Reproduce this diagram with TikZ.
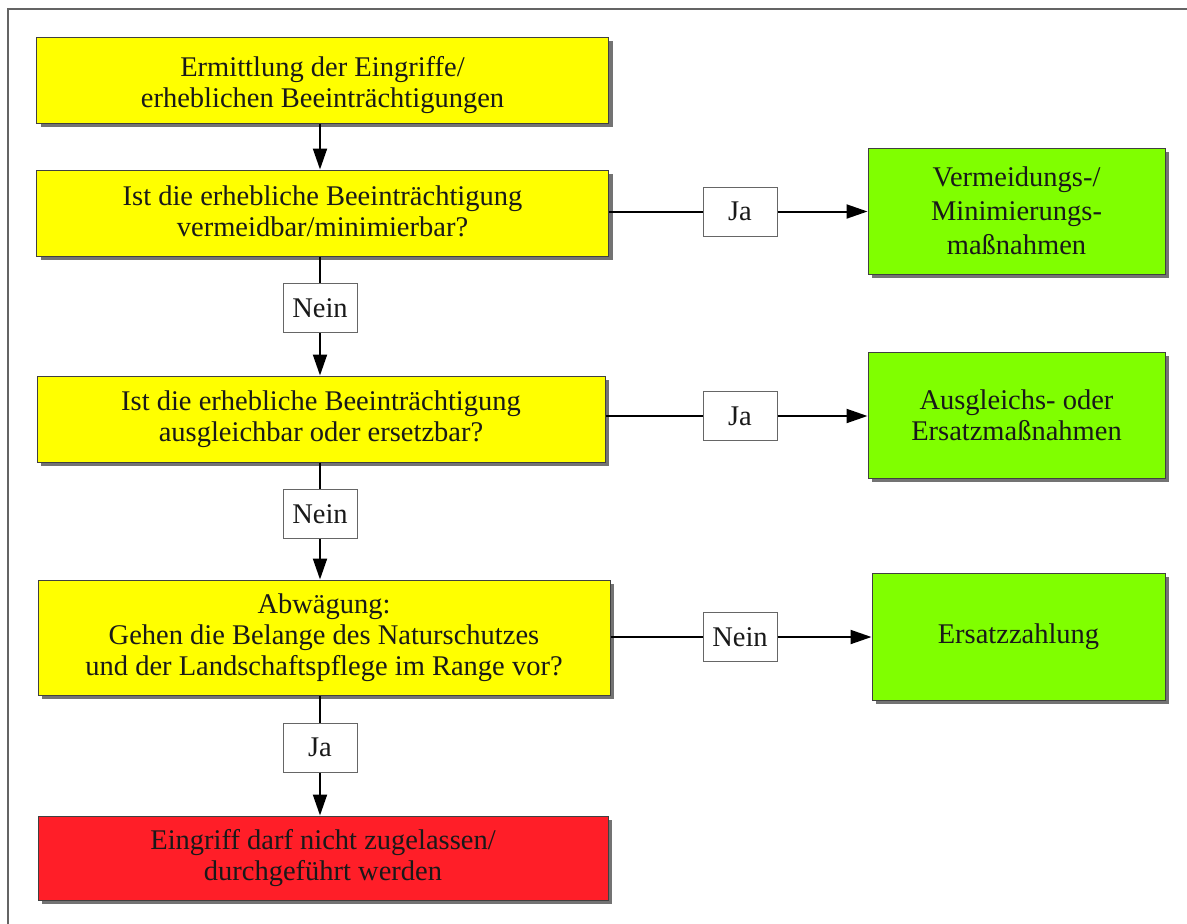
\documentclass[tikz,border=0pt]{standalone}
\usepackage{fontspec}
\setmainfont{Liberation Serif}
\usetikzlibrary{shadows,arrows.meta}
\definecolor{boxyellow}{RGB}{255,255,0}
\definecolor{boxgreen}{RGB}{128,255,0}
\definecolor{boxred}{RGB}{255,30,40}
\definecolor{framegray}{RGB}{100,100,100}
\definecolor{txt}{RGB}{25,25,25}
\newcommand{\lowertext}[2]{\raisebox{-#1}[\height][\depth]{\begin{tabular}{@{}c@{}}#2\end{tabular}}}
\tikzset{
  box/.style={draw=black!75, line width=1pt, align=center, inner sep=0pt,
    text=txt, font=\fontsize{28.5}{31}\selectfont,
    drop shadow={shadow xshift=4pt, shadow yshift=-4pt, fill=black!55, opacity=1}},
  yellowbox/.style={box, fill=boxyellow, minimum width=572pt},
  greenbox/.style={box, fill=boxgreen, minimum width=297pt, minimum height=126pt},
  redbox/.style={box, fill=boxred},
  lab/.style={draw=black!60, line width=1pt, fill=white, minimum width=74pt, minimum height=49pt,
    inner sep=0pt, text=txt, font=\fontsize{28.5}{31}\selectfont},
  conn/.style={line width=2pt, black},
  arr/.style={conn, -{Triangle[length=21pt,width=14pt]}}
}
\begin{document}
\begin{tikzpicture}[x=1pt,y=-1pt]
\useasboundingbox (0,0) rectangle (1187,924);
\fill[white] (0,0) rectangle (1187,924);
\draw[framegray, line width=2pt] (8,924) -- (8,9) -- (1187,9);

\node[yellowbox, minimum height=86pt] (b1) at (322.5,80) {\lowertext{6pt}{Ermittlung der Eingriffe/\\[0pt]erheblichen Beeinträchtigungen}};
\node[yellowbox, minimum height=86pt] (b2) at (322.5,213) {\lowertext{2pt}{Ist die erhebliche Beeinträchtigung\\[0pt]vermeidbar/minimierbar?}};
\node[yellowbox, minimum height=86pt, minimum width=568pt] (b3) at (321,419) {Ist die erhebliche Beeinträchtigung\\ausgleichbar oder ersetzbar?};
\node[yellowbox, minimum height=115pt] (b4) at (324,637.5) {Abwägung:\\Gehen die Belange des Naturschutzes\\und der Landschaftspflege im Range vor?};
\node[redbox, minimum height=84pt, minimum width=570pt] (b5) at (323,858) {Eingriff darf nicht zugelassen/\\durchgeführt werden};

\node[greenbox, font=\fontsize{28.5}{34}\selectfont] (g1) at (1016.5,211) {Vermeidungs-/\\Minimierungs-\\maßnahmen};
\node[greenbox] (g2) at (1016.5,415) {Ausgleichs- oder\\Ersatzmaßnahmen};
\node[greenbox, minimum width=293pt, minimum height=127pt] (g3) at (1018.5,636.5) {Ersatzzahlung};

\node[lab] (j1) at (740,211.5) {Ja};
\node[lab] (j2) at (740,416) {Ja};
\node[lab] (n3) at (740,637) {Nein};
\node[lab] (n1) at (320,308) {Nein};
\node[lab] (n2) at (320,514) {Nein};
\node[lab] (j3) at (320,747.5) {Ja};

\draw[arr] (b1.south -| n1) -- (b2.north -| n1);
\draw[conn] (b2.south -| n1) -- (n1.north);
\draw[arr] (n1.south) -- (b3.north -| n1);
\draw[conn] (b3.south -| n2) -- (n2.north);
\draw[arr] (n2.south) -- (b4.north -| n2);
\draw[conn] (b4.south -| j3) -- (j3.north);
\draw[arr] (j3.south) -- (b5.north -| j3);

\draw[conn] (b2.east |- j1) -- (j1.west);
\draw[arr] (j1.east) -- (g1.west |- j1);
\draw[conn] (b3.east |- j2) -- (j2.west);
\draw[arr] (j2.east) -- (g2.west |- j2);
\draw[conn] (b4.east |- n3) -- (n3.west);
\draw[arr] (n3.east) -- (g3.west |- n3);
\end{tikzpicture}
\end{document}
